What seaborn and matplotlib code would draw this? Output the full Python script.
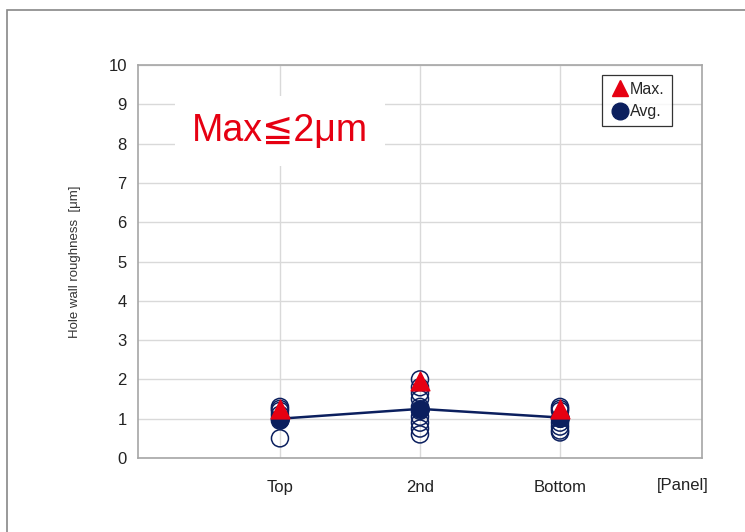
import pandas as pd
import numpy as np
import matplotlib.pyplot as plt
import seaborn as sns
from matplotlib.patches import Rectangle
from matplotlib.lines import Line2D

panels = ["Top", "2nd", "Bottom"]

top_vals = [1.3, 1.25, 1.2, 1.1, 1.0, 0.95, 0.5]
second_vals = [2.0, 1.8, 1.65, 1.5, 1.3, 1.2, 1.05, 0.9, 0.75, 0.6]
bottom_vals = [1.3, 1.25, 1.2, 1.0, 0.9, 0.8, 0.7, 0.65]

max_vals = [1.25, 1.95, 1.25]
avg_vals = [1.0, 1.25, 1.03]

navy = "#0b1f5e"
red = "#e60012"

sns.set_theme(style="white")
plt.rcParams['font.family'] = ['Liberation Sans', 'DejaVu Sans']

rows = []
for i, vals in enumerate([top_vals, second_vals, bottom_vals]):
    for v in vals:
        rows.append({"pos": i, "value": v})
df_pts = pd.DataFrame(rows)
df_sum = pd.DataFrame({"pos": range(len(panels)), "max": max_vals, "avg": avg_vals})

fig = plt.figure(figsize=(7.45, 5.32), dpi=100)
ax = fig.add_axes([0.1852, 0.1391, 0.7571, 0.7387])

# outer frame
fig.patches.append(Rectangle((7 / 745, -0.1), 1.2, 1 - 10 / 532 + 0.1, transform=fig.transFigure,
                             fill=False, edgecolor="#888888", linewidth=1.2, zorder=0))

sns.scatterplot(data=df_pts, x="pos", y="value", ax=ax, marker="o", s=150,
                facecolor="none", edgecolor=navy, linewidth=1.1, zorder=3, legend=False)
sns.lineplot(data=df_sum, x="pos", y="avg", ax=ax, color=navy, linewidth=1.8, zorder=4)
sns.scatterplot(data=df_sum, x="pos", y="avg", ax=ax, marker="o", s=160,
                color=navy, edgecolor=navy, zorder=5, legend=False)
sns.scatterplot(data=df_sum, x="pos", y="max", ax=ax, marker="^", s=180,
                color=red, edgecolor=red, zorder=6, legend=False)

ax.set_xlim(-1.014, 3.014)
ax.set_ylim(0, 10)
ax.set_xticks(range(len(panels)))
ax.set_xticklabels(panels, fontsize=12, color="#222222")
ax.set_yticks(range(0, 11))
ax.tick_params(axis="y", labelsize=12, colors="#222222", length=0, pad=8)
ax.tick_params(axis="x", length=0, pad=16)
ax.grid(True, color="#d9d9d9", linewidth=1)
ax.set_axisbelow(True)
for s in ax.spines.values():
    s.set_color("#a6a6a6")
    s.set_linewidth(1.2)

ax.set_xlabel("")
ax.set_ylabel("Hole wall roughness  [μm]", fontsize=9.5, color="#333333", labelpad=20)

ax.text(2.88, -0.71, "[Panel]", fontsize=12, color="#222222", ha="center", va="center",
        clip_on=False)

ax.text(0.0, 8.32, "Max≦2μm", fontsize=27, color=red, ha="center", va="center",
        bbox=dict(facecolor="white", edgecolor="none", boxstyle="square,pad=0.45"), zorder=7)

handles = [Line2D([], [], marker="^", color=red, linestyle="none", markersize=12),
           Line2D([], [], marker="o", color=navy, linestyle="none", markersize=12)]
leg = ax.legend(handles, ["Max.", "Avg."], loc="upper right", bbox_to_anchor=(0.947, 0.975),
                fontsize=11.5, frameon=True, fancybox=False, handletextpad=0.0,
                handlelength=1.3, borderpad=0.45, labelspacing=0.45, borderaxespad=0)
leg.get_frame().set_edgecolor("black")
leg.get_frame().set_linewidth(0.9)

fig.savefig("out.png", dpi=100)
